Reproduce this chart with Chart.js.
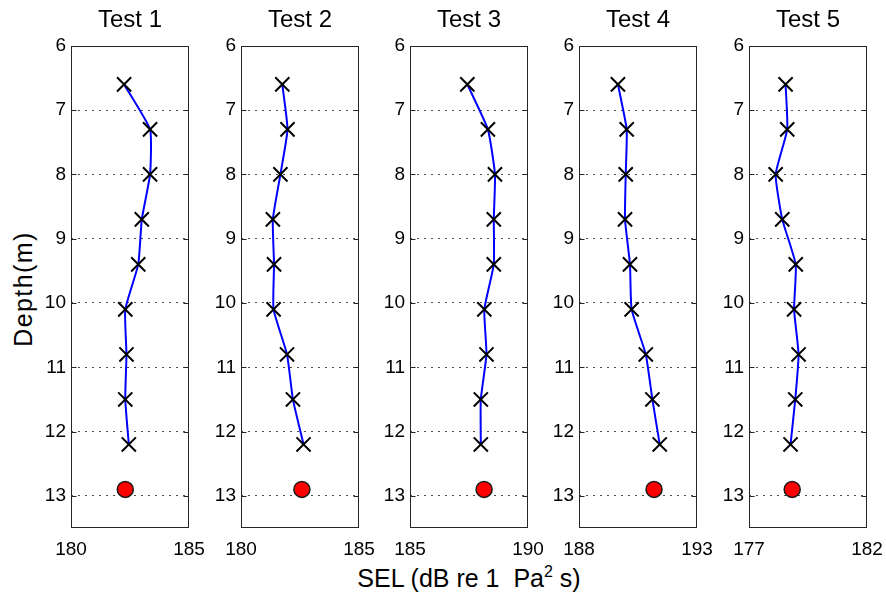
<!DOCTYPE html>
<html>
<head>
<meta charset="utf-8">
<script src="https://cdn.jsdelivr.net/npm/chart.js@4.4.0/dist/chart.umd.min.js"></script>
<style>
  html, body { margin: 0; padding: 0; background: #fff; }
  #wrap { position: relative; width: 886px; height: 596px; overflow: hidden;
          font-family: "Liberation Sans", Arial, sans-serif; color: #000; }
  .panel { position: absolute; top: 0; }
  #ylabel { position: absolute; left: 23px; top: 289px; font-size: 25px; letter-spacing: 1.4px;
            white-space: nowrap; transform: translate(-50%, -50%) rotate(-90deg); }
  #xlabel { position: absolute; left: 469px; top: 578px; font-size: 25px; white-space: pre;
            transform: translate(-50%, -50%); }
  #xlabel sup { font-size: 16px; line-height: 0; vertical-align: 10px; }
</style>
</head>
<body>
<div id="wrap">
  <div id="ylabel">Depth(m)</div>
  <div id="xlabel">SEL (dB re 1  Pa<sup>2</sup> s)</div>
</div>
<script>
// measurement depths (m) and the reference point depth
const depths = [6.6, 7.3, 8.0, 8.7, 9.4, 10.1, 10.8, 11.5, 12.2];
const refDepth = 12.9;

// SEL per test (dB re 1 uPa^2 s)
const sel1 = [182.25, 183.35, 183.35, 183.0, 182.85, 182.3, 182.35, 182.3, 182.45];
const sel2 = [181.75, 181.97, 181.67, 181.35, 181.4, 181.38, 181.95, 182.2, 182.65];
const sel3 = [187.43, 188.3, 188.6, 188.55, 188.55, 188.15, 188.24, 188.0, 188.0];
const sel4 = [189.65, 190.02, 189.98, 189.95, 190.16, 190.23, 190.83, 191.11, 191.42];
const sel5 = [178.55, 178.62, 178.13, 178.41, 178.98, 178.91, 179.1, 178.96, 178.76];
const refSel = [182.3, 182.58, 188.14, 191.18, 178.83];

const titles = ["Test 1", "Test 2", "Test 3", "Test 4", "Test 5"];
const xMin = [180, 180, 185, 188, 177];
const xMax = [185, 185, 190, 193, 182];
const yTicks = [6, 7, 8, 9, 10, 11, 12, 13];

const series = [sel1, sel2, sel3, sel4, sel5];
const plotLeft = [71, 241, 410, 579, 749];
const plotWidth = 118;
const margin = 50;
const font = "'Liberation Sans', Arial, sans-serif";

// box around the axes plus inward tick marks on both sides
const frame = {
  id: "frame",
  afterDatasetsDraw(chart) {
    const { ctx, chartArea: a, scales: { y } } = chart;
    const l = Math.round(a.left) + 0.5, r = Math.round(a.right) - 0.5;
    const t = Math.round(a.top) + 0.5, b = Math.round(a.bottom) - 0.5;
    ctx.save();
    ctx.strokeStyle = "#262626";
    ctx.lineWidth = 1;
    ctx.beginPath();
    yTicks.forEach(v => {
      const py = Math.round(y.getPixelForValue(v)) + 0.5;
      ctx.moveTo(l, py); ctx.lineTo(l + 5, py);
      ctx.moveTo(r, py); ctx.lineTo(r - 5, py);
    });
    ctx.stroke();
    ctx.strokeRect(l, t, r - l, b - t);
    ctx.restore();
  }
};

const wrap = document.getElementById("wrap");

series.forEach((sel, i) => {
  const box = document.createElement("div");
  box.className = "panel";
  box.style.left = (plotLeft[i] - margin) + "px";
  const canvas = document.createElement("canvas");
  canvas.width = plotWidth + 2 * margin;
  canvas.height = 560;
  box.appendChild(canvas);
  wrap.appendChild(box);

  new Chart(canvas, {
    type: "scatter",
    data: {
      datasets: [
        {
          data: sel.map((v, k) => ({ x: v, y: depths[k] })),
          showLine: true,
          borderColor: "#0000ff",
          borderWidth: 2,
          tension: 0.15,
          pointStyle: "crossRot",
          pointRadius: 10,
          pointBorderColor: "#000",
          pointBorderWidth: 2,
          pointBackgroundColor: "#000"
        },
        {
          data: [{ x: refSel[i], y: refDepth }],
          pointStyle: "circle",
          pointRadius: 8,
          pointBackgroundColor: "#ff0000",
          pointBorderColor: "#1a1a1a",
          pointBorderWidth: 1.5
        }
      ]
    },
    options: {
      responsive: false,
      animation: false,
      events: [],
      layout: { padding: { left: 0, right: margin, top: 0, bottom: 0 } },
      plugins: {
        legend: { display: false },
        tooltip: { enabled: false },
        title: {
          display: true,
          fullSize: false,
          text: titles[i],
          color: "#000",
          font: { family: font, size: 24, weight: "normal" },
          padding: { top: 6, bottom: 11 }
        }
      },
      scales: {
        x: {
          type: "linear",
          min: xMin[i],
          max: xMax[i],
          afterBuildTicks: s => { s.ticks = [{ value: xMin[i] }, { value: xMax[i] }]; },
          afterFit: s => { s.height = 32; },
          grid: { display: false },
          border: { display: false },
          ticks: { color: "#000", font: { family: font, size: 19 }, padding: 2,
                   maxRotation: 0, autoSkip: false }
        },
        y: {
          type: "linear",
          reverse: true,
          min: 6,
          max: 13.5,
          afterBuildTicks: s => { s.ticks = yTicks.map(v => ({ value: v })); },
          afterFit: s => { s.width = margin; },
          grid: {
            drawTicks: false,
            color: c => (c.tick && c.tick.value === 6) ? "rgba(0,0,0,0)" : "#4d4d4d",
            lineWidth: 1
          },
          border: { display: false, dash: [2, 5] },
          ticks: { color: "#000", font: { family: font, size: 19 }, padding: 5 }
        }
      }
    },
    plugins: [frame]
  });
});
</script>
</body>
</html>
